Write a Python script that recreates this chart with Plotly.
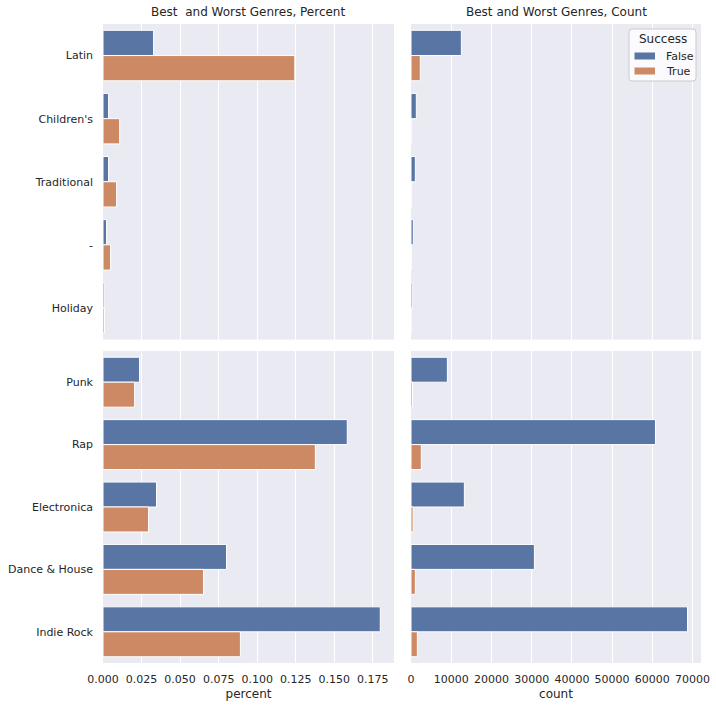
import plotly.graph_objects as go

# ---- data ----
top_genres = ["Latin", "Children's", "Traditional", "-", "Holiday"]
bottom_genres = ["Punk", "Rap", "Electronica", "Dance & House", "Indie Rock"]

top_pct_false = [0.0328, 0.0036, 0.0036, 0.0023, 0.0008]
top_pct_true = [0.1244, 0.0108, 0.0088, 0.0049, 0.0010]
bottom_pct_false = [0.0237, 0.1584, 0.0347, 0.0801, 0.1798]
bottom_pct_true = [0.0205, 0.1377, 0.0295, 0.0652, 0.0891]

top_cnt_false = [12520, 1320, 1070, 570, 300]
top_cnt_true = [2310, 190, 160, 90, 20]
bottom_cnt_false = [9040, 60780, 13270, 30680, 68750]
bottom_cnt_true = [370, 2560, 530, 1080, 1580]

pct_ticks = [0.0, 0.025, 0.05, 0.075, 0.1, 0.125, 0.15, 0.175]
cnt_ticks = [0, 10000, 20000, 30000, 40000, 50000, 60000, 70000]

legend_title = "Success"
legend_labels = ["False", "True"]

BLUE = "#5875a4"
ORANGE = "#cc8963"
BG = "#eaeaf2"
TXT = "#262626"
FONT = "DejaVu Sans"

W, H = 716, 708


def px(x):
    return x / W


def py(y):
    return 1 - y / H


fig = go.Figure()

panels = [
    ("x", "y", top_genres, top_pct_false, top_pct_true),
    ("x2", "y2", top_genres, top_cnt_false, top_cnt_true),
    ("x3", "y3", bottom_genres, bottom_pct_false, bottom_pct_true),
    ("x4", "y4", bottom_genres, bottom_cnt_false, bottom_cnt_true),
]

for xa, ya, cats, vf, vt in panels:
    fig.add_trace(go.Bar(
        y=cats, x=vf, orientation="h", name=legend_labels[0],
        showlegend=False, marker=dict(color=BLUE, line=dict(color="white", width=1)),
        xaxis=xa, yaxis=ya))
    fig.add_trace(go.Bar(
        y=cats, x=vt, orientation="h", name=legend_labels[1],
        showlegend=False, marker=dict(color=ORANGE, line=dict(color="white", width=1)),
        xaxis=xa, yaxis=ya))

left_dom = [px(103), px(394)]
right_dom = [px(411), px(701)]
top_dom = [py(339.5), py(24)]
bot_dom = [py(663), py(351)]

pct_range = [0, 0.1887]
cnt_range = [0, 72100]

common_x = dict(showgrid=True, gridcolor="white", gridwidth=1, zeroline=False,
                showline=False, ticks="", automargin=False,
                tickfont=dict(size=11, color=TXT, family=FONT))
common_y = dict(type="category", autorange=False, showgrid=False, zeroline=False,
                showline=False, ticks="", automargin=False,
                tickfont=dict(size=11, color=TXT, family=FONT))

shapes = []
annotations = [
    dict(text="Best  and Worst Genres, Percent", x=px((103 + 394) / 2), y=py(12),
         xref="paper", yref="paper", showarrow=False, xanchor="center",
         yanchor="middle", font=dict(size=12, color=TXT)),
    dict(text="Best and Worst Genres, Count", x=px((411 + 701) / 2), y=py(12),
         xref="paper", yref="paper", showarrow=False, xanchor="center",
         yanchor="middle", font=dict(size=12, color=TXT)),
]

# custom legend (matplotlib-like, rounded box)
lx0, lx1, ly0, ly1, r = 629, 696, 29, 81, 3
path = (f"M {px(lx0 + r)},{py(ly0)} L {px(lx1 - r)},{py(ly0)} "
        f"Q {px(lx1)},{py(ly0)} {px(lx1)},{py(ly0 + r)} "
        f"L {px(lx1)},{py(ly1 - r)} Q {px(lx1)},{py(ly1)} {px(lx1 - r)},{py(ly1)} "
        f"L {px(lx0 + r)},{py(ly1)} Q {px(lx0)},{py(ly1)} {px(lx0)},{py(ly1 - r)} "
        f"L {px(lx0)},{py(ly0 + r)} Q {px(lx0)},{py(ly0)} {px(lx0 + r)},{py(ly0)} Z")
shapes.append(dict(type="path", xref="paper", yref="paper", path=path,
                   fillcolor="rgba(255,255,255,0.8)", line=dict(color="#cccccc", width=1),
                   layer="above"))
annotations.append(dict(text=legend_title, x=px(662.5), y=py(39), xref="paper", yref="paper",
                        showarrow=False, xanchor="center", yanchor="middle",
                        font=dict(size=12, color=TXT)))
for lab, col, yc in [(legend_labels[0], BLUE, 56), (legend_labels[1], ORANGE, 71)]:
    shapes.append(dict(type="rect", xref="paper", yref="paper",
                       x0=px(634.5), x1=px(655), y0=py(yc + 3.5), y1=py(yc - 3.5),
                       fillcolor=col, line=dict(width=0), layer="above"))
    annotations.append(dict(text=lab, x=px(664), y=py(yc), xref="paper", yref="paper",
                            showarrow=False, xanchor="left", yanchor="middle",
                            font=dict(size=11, color=TXT)))

fig.update_layout(
    width=W, height=H,
    margin=dict(l=0, r=0, t=0, b=0),
    paper_bgcolor="white", plot_bgcolor=BG,
    font=dict(family=FONT, color=TXT),
    barmode="group", bargap=0.2, bargroupgap=0,
    showlegend=False,
    xaxis=dict(domain=left_dom, anchor="y", range=pct_range, tickvals=pct_ticks,
               showticklabels=False, **common_x),
    xaxis2=dict(domain=right_dom, anchor="y2", range=cnt_range, tickvals=cnt_ticks,
                showticklabels=False, **common_x),
    xaxis3=dict(domain=left_dom, anchor="y3", range=pct_range, tickvals=pct_ticks,
                tickformat=".3f", showticklabels=True, ticklabelstandoff=8,
                title=dict(text="percent", font=dict(size=12, color=TXT), standoff=4),
                **common_x),
    xaxis4=dict(domain=right_dom, anchor="y4", range=cnt_range, tickvals=cnt_ticks,
                tickformat="d", showticklabels=True, ticklabelstandoff=8,
                title=dict(text="count", font=dict(size=12, color=TXT), standoff=4),
                **common_x),
    yaxis=dict(domain=top_dom, anchor="x", range=[4.5, -0.5], showticklabels=True,
               ticklabelstandoff=9, **common_y),
    yaxis2=dict(domain=top_dom, anchor="x2", range=[4.5, -0.5], showticklabels=False,
                **common_y),
    yaxis3=dict(domain=bot_dom, anchor="x3", range=[4.5, -0.5], showticklabels=True,
                ticklabelstandoff=9, **common_y),
    yaxis4=dict(domain=bot_dom, anchor="x4", range=[4.5, -0.5], showticklabels=False,
                **common_y),
    shapes=shapes,
    annotations=annotations,
)

fig.write_html(
    "out.html",
    config={"displayModeBar": False},
    post_script="document.body.style.margin='0';document.body.style.overflow='hidden';",
)
